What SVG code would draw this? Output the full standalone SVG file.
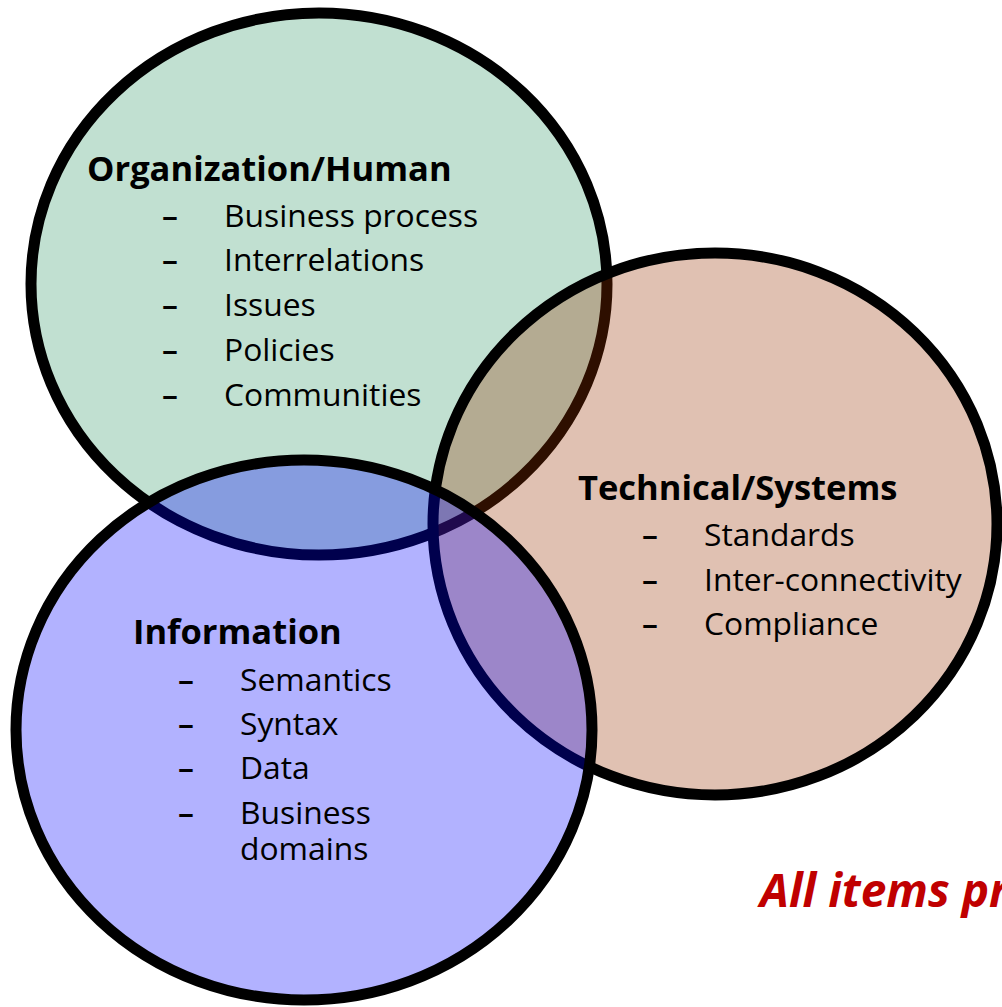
<svg xmlns="http://www.w3.org/2000/svg" width="1002" height="1007" viewBox="0 0 1002 1007">
<style>
.c{stroke:#000;stroke-width:11;fill-opacity:0.3}
.h{font-family:"Open Sans",Lato,sans-serif;font-weight:bold;font-size:34.5px;fill:#000}
.t{font-family:"Open Sans",Lato,sans-serif;font-size:31.8px;fill:#000}
.d{font-family:"Open Sans",Lato,sans-serif;font-size:31.8px;fill:#000;font-weight:600}
.note{font-family:"Open Sans",Lato,sans-serif;font-weight:bold;font-style:italic;font-size:46px;fill:#c00000}
</style>
<rect width="1002" height="1007" fill="#fff"/>
<g id="org-circle"><ellipse class="c" cx="319" cy="284" rx="288" ry="271" fill="#339966"/></g>
<g id="tech-circle"><ellipse class="c" cx="715" cy="524" rx="282" ry="271" fill="#993300"/></g>
<g id="info-circle"><ellipse class="c" cx="304" cy="730" rx="288" ry="270" fill="#0000ff"/></g>
<g id="org">
<text class="h" x="87" y="181">Organization/Human</text>
<text class="d" x="162" y="227">–</text><text class="t" x="224" y="227">Business process</text>
<text class="d" x="162" y="271">–</text><text class="t" x="224" y="271">Interrelations</text>
<text class="d" x="162" y="316">–</text><text class="t" x="224" y="316">Issues</text>
<text class="d" x="162" y="361">–</text><text class="t" x="224" y="361">Policies</text>
<text class="d" x="162" y="406">–</text><text class="t" x="224" y="406">Communities</text>
</g>
<g id="tech">
<text class="h" x="578" y="500">Technical/Systems</text>
<text class="d" x="642" y="546">–</text><text class="t" x="704" y="546">Standards</text>
<text class="d" x="642" y="591">–</text><text class="t" x="704" y="591">Inter-connectivity</text>
<text class="d" x="642" y="635">–</text><text class="t" x="704" y="635">Compliance</text>
</g>
<g id="info">
<text class="h" x="133" y="644">Information</text>
<text class="d" x="178" y="691">–</text><text class="t" x="240" y="691">Semantics</text>
<text class="d" x="178" y="735">–</text><text class="t" x="240" y="735">Syntax</text>
<text class="d" x="178" y="779">–</text><text class="t" x="240" y="779">Data</text>
<text class="d" x="178" y="824">–</text><text class="t" x="240" y="824">Business</text>
<text class="t" x="240" y="860">domains</text>
</g>
<g id="note"><text class="note" x="760" y="907">All items pr</text></g>
</svg>
